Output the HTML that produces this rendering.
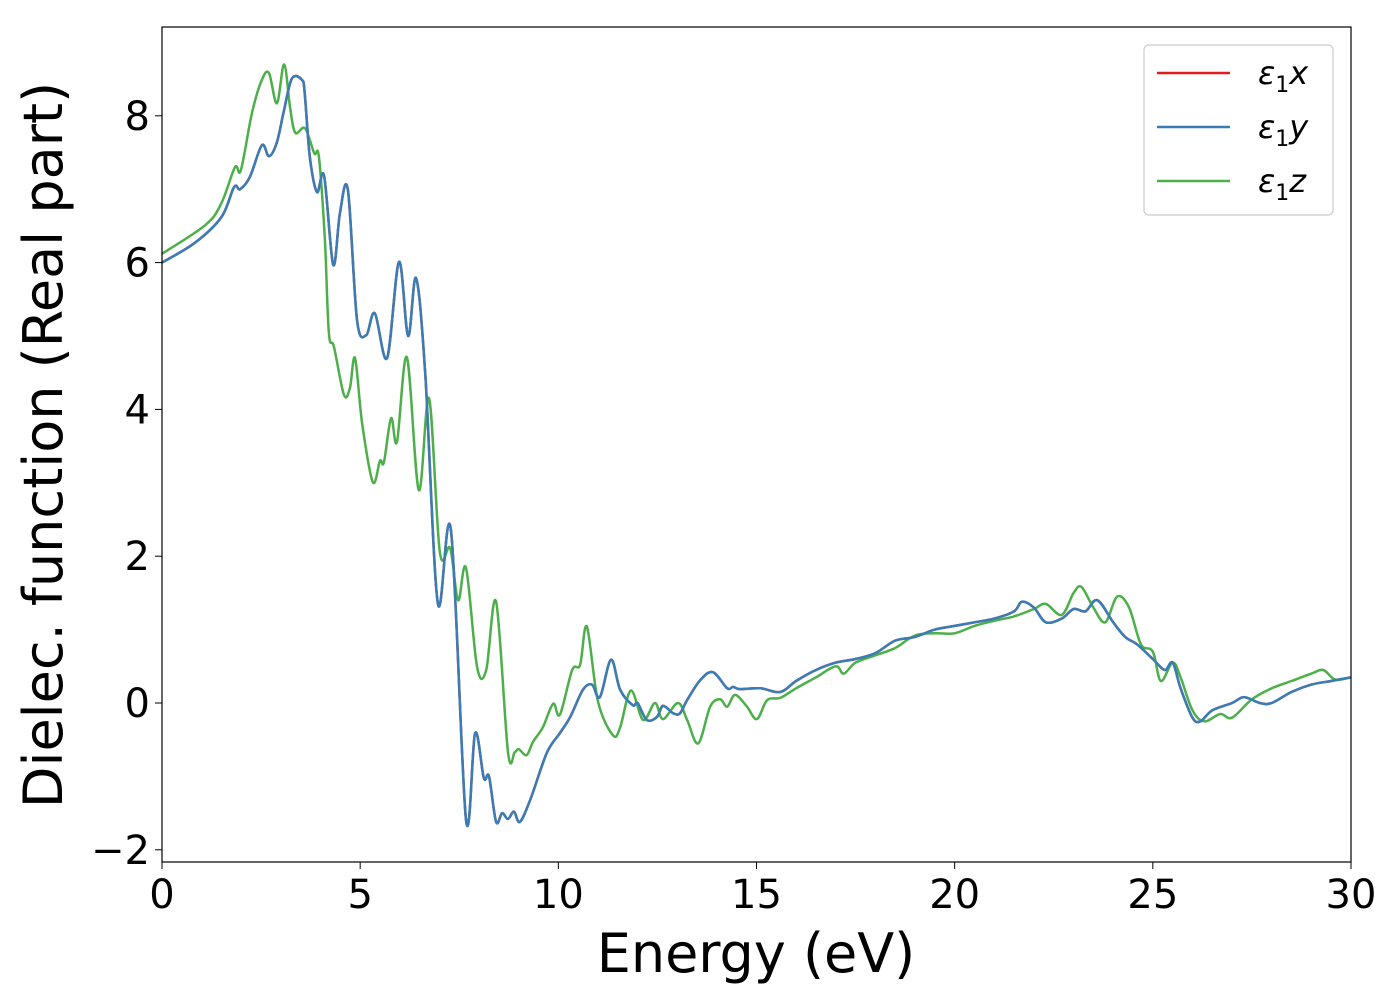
<!DOCTYPE html>
<html><head><meta charset="utf-8"><style>
body{margin:0;background:#fff;}
svg text{font-family:"DejaVu Sans","Liberation Sans",sans-serif;}
</style></head><body>
<svg id="chart" width="1400" height="1000" xmlns="http://www.w3.org/2000/svg">
<rect width="1400" height="1000" fill="#fff"/>
<g id="plot"></g>
<rect x="162" y="27" width="1189" height="835" fill="none" stroke="#000" stroke-width="1.2"/>
<g id="ticks"></g>
<text x="756" y="972" font-size="54" text-anchor="middle">Energy (eV)</text>
<text transform="translate(62,445) rotate(-90)" font-size="54" text-anchor="middle">Dielec. function (Real part)</text>
<g>
<rect x="1144" y="45" width="189" height="170" rx="5" fill="#fff" stroke="#ccc" stroke-width="1.2"/>
<g><line x1="1157" x2="1230" y1="73" y2="73" stroke="#e41a1c" stroke-width="2.5"/><text x="1258" y="84" font-size="32"><tspan font-style="italic">ε</tspan><tspan font-size="22" dy="8">1</tspan><tspan font-style="italic" dy="-8">x</tspan></text></g>
<g><line x1="1157" x2="1230" y1="127" y2="127" stroke="#377eb8" stroke-width="2.5"/><text x="1258" y="138" font-size="32"><tspan font-style="italic">ε</tspan><tspan font-size="22" dy="8">1</tspan><tspan font-style="italic" dy="-8">y</tspan></text></g>
<g><line x1="1157" x2="1230" y1="181" y2="181" stroke="#4daf4a" stroke-width="2.5"/><text x="1258" y="192" font-size="32"><tspan font-style="italic">ε</tspan><tspan font-size="22" dy="8">1</tspan><tspan font-style="italic" dy="-8">z</tspan></text></g>
</g>
</svg>
<script>
const xTicks=[0,5,10,15,20,25,30];
const yTicks=[-2,0,2,4,6,8];
const yTickLabels=["\u22122","0","2","4","6","8"];
const energyXY=[0,0.83,1.5,1.82,1.97,2.22,2.52,2.7,2.9,3.08,3.28,3.53,3.6,3.73,3.91,4.09,4.32,4.49,4.69,4.92,5.15,5.37,5.68,5.98,6.21,6.41,6.64,6.96,7.29,7.67,7.9,8.12,8.25,8.43,8.58,8.73,8.88,9.03,9.29,9.71,10.04,10.3,10.62,10.85,11.05,11.33,11.56,11.88,12.0,12.23,12.49,12.64,12.9,13.07,13.25,13.58,13.9,14.26,14.41,14.58,15.1,15.6,16,16.5,17,17.5,18,18.5,19,19.5,20,20.5,21,21.5,21.7,22,22.3,22.7,23,23.3,23.6,24,24.3,24.6,25,25.3,25.5,25.7,26,26.2,26.5,27,27.3,27.7,28,28.5,29,29.5,30];
const epsX=[6.0,6.27,6.62,7.03,7.0,7.17,7.6,7.45,7.64,8.08,8.51,8.49,8.31,7.44,6.96,7.18,5.97,6.68,6.99,5.22,5.01,5.31,4.7,6.01,5.0,5.79,4.5,1.36,2.36,-1.59,-0.41,-1.02,-1.0,-1.62,-1.5,-1.58,-1.48,-1.62,-1.32,-0.68,-0.41,-0.19,0.18,0.25,0.08,0.59,0.18,-0.03,0,-0.23,-0.19,-0.04,-0.14,-0.14,0.04,0.31,0.42,0.2,0.22,0.19,0.2,0.15,0.3,0.45,0.55,0.6,0.68,0.85,0.9,1.0,1.05,1.1,1.15,1.25,1.38,1.3,1.1,1.15,1.28,1.25,1.4,1.1,0.9,0.8,0.6,0.45,0.55,0.2,-0.2,-0.25,-0.1,0,0.08,0.0,0.0,0.15,0.25,0.3,0.35];
const epsY=epsX.slice();
const energyZ=[0,1.09,1.5,1.84,1.99,2.27,2.52,2.7,2.9,3.08,3.23,3.36,3.61,3.84,3.96,4.11,4.21,4.34,4.59,4.74,4.87,5.05,5.32,5.5,5.6,5.78,5.93,6.18,6.48,6.74,7.01,7.27,7.47,7.67,7.95,8.18,8.43,8.73,8.9,9.0,9.2,9.36,9.61,9.87,10.04,10.35,10.55,10.72,11.0,11.38,11.56,11.83,12.14,12.44,12.64,13.02,13.25,13.53,13.83,14.08,14.26,14.46,14.76,15.01,15.27,15.6,16,16.5,17,17.2,17.5,18,18.5,19,19.5,20,20.5,21,21.5,22,22.3,22.7,23,23.2,23.5,23.8,24.1,24.4,24.7,25,25.2,25.5,25.7,26,26.3,26.7,27,27.5,28,28.5,29,29.3,29.6,30];
const epsZ=[6.12,6.51,6.81,7.3,7.26,8.04,8.49,8.58,8.17,8.7,8.12,7.77,7.83,7.49,7.44,6.31,5.04,4.85,4.2,4.29,4.7,3.81,3.01,3.3,3.28,3.88,3.56,4.71,2.9,4.15,2.06,2.11,1.4,1.84,0.49,0.45,1.38,-0.67,-0.67,-0.63,-0.71,-0.53,-0.33,-0.01,-0.16,0.45,0.52,1.04,0.02,-0.44,-0.33,0.17,-0.23,0.0,-0.22,0.0,-0.23,-0.55,-0.05,0.05,-0.05,0.11,-0.05,-0.22,0.04,0.07,0.2,0.35,0.5,0.4,0.55,0.65,0.75,0.92,0.95,0.95,1.05,1.12,1.18,1.28,1.35,1.2,1.5,1.58,1.3,1.1,1.45,1.3,0.8,0.7,0.3,0.55,0.35,-0.1,-0.25,-0.15,-0.2,0.05,0.2,0.3,0.4,0.45,0.32,0.35];

const X0=162,X1=1351,Y0=703,YU=73.4;
function sx(e){return X0+(e/30)*(X1-X0);}
function sy(v){return Y0-v*YU;}
const NS="http://www.w3.org/2000/svg";
function pathFor(xs,ys){
  const p=xs.map((x,i)=>[sx(x),sy(ys[i])]);
  let d="M"+p[0][0].toFixed(1)+","+p[0][1].toFixed(1);
  for(let i=0;i<p.length-1;i++){
    const a=p[Math.max(0,i-1)],b=p[i],c=p[i+1],e=p[Math.min(p.length-1,i+2)];
    const c1=[b[0]+(c[0]-a[0])/6,b[1]+(c[1]-a[1])/6],c2=[c[0]-(e[0]-b[0])/6,c[1]-(e[1]-b[1])/6];
    d+="C"+c1[0].toFixed(1)+","+c1[1].toFixed(1)+" "+c2[0].toFixed(1)+","+c2[1].toFixed(1)+" "+c[0].toFixed(1)+","+c[1].toFixed(1);
  }
  return d;
}
const plot=document.getElementById("plot");
function addLine(xs,ys,color,name){
  const el=document.createElementNS(NS,"path");
  el.setAttribute("d",pathFor(xs,ys));
  el.setAttribute("fill","none");el.setAttribute("stroke",color);el.setAttribute("stroke-width","2.5");
  
  
  plot.appendChild(el);
}
addLine(energyXY,epsX,"#e41a1c","series-eps1-x");
addLine(energyZ,epsZ,"#4daf4a","series-eps1-z");
addLine(energyXY,epsY,"#377eb8","series-eps1-y");
const ticks=document.getElementById("ticks");
xTicks.forEach(t=>{
  const l=document.createElementNS(NS,"line");
  l.setAttribute("x1",sx(t));l.setAttribute("x2",sx(t));l.setAttribute("y1",862);l.setAttribute("y2",869);l.setAttribute("stroke","#000");
  
  
  ticks.appendChild(l);
  const tx=document.createElementNS(NS,"text");
  tx.setAttribute("x",sx(t));tx.setAttribute("y",908);tx.setAttribute("font-size","40");tx.setAttribute("text-anchor","middle");
  tx.textContent=t;
  
  
  ticks.appendChild(tx);
});
yTicks.forEach((t,i)=>{
  const l=document.createElementNS(NS,"line");
  l.setAttribute("x1",155);l.setAttribute("x2",162);l.setAttribute("y1",sy(t));l.setAttribute("y2",sy(t));l.setAttribute("stroke","#000");
  
  
  ticks.appendChild(l);
  const tx=document.createElementNS(NS,"text");
  tx.setAttribute("x",150);tx.setAttribute("y",sy(t)+14);tx.setAttribute("font-size","40");tx.setAttribute("text-anchor","end");
  tx.textContent=yTickLabels[i];
  
  
  ticks.appendChild(tx);
});
</script>
</body></html>
